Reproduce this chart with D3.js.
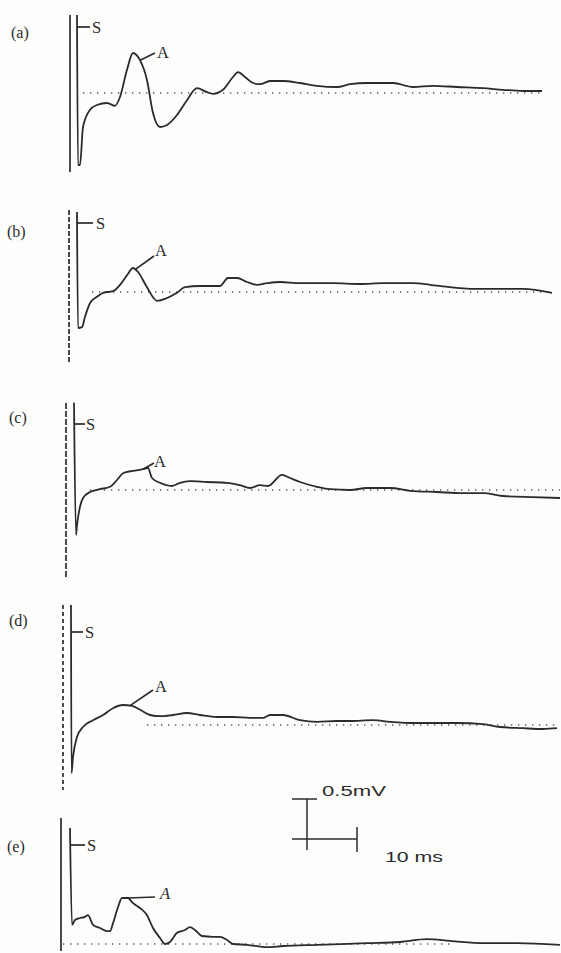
<!DOCTYPE html>
<html><head><meta charset="utf-8">
<script src="https://cdn.jsdelivr.net/npm/d3@7"></script>
<style>
html,body{margin:0;padding:0;background:#fdfdfc;}
svg{display:block;}
</style></head>
<body>
<svg id="chart" width="561" height="953"></svg>
<script>
// ---- data: [time (ms after stimulus), potential (mV relative to baseline)] ----
const panelLabels = ["(a)", "(b)", "(c)", "(d)", "(e)"];
const traceA = [[0,0.975],[0.2,-0.9],[0.6,-0.9],[1.2,-0.425],[2.6,-0.21],[4.0,-0.15],[6.0,-0.125],[7.6,-0.16],[8.6,-0.05],[10.0,0.29],[11.2,0.5],[12.6,0.41],[14.0,0.16],[15.2,-0.25],[16.6,-0.425],[18.0,-0.4],[20.0,-0.275],[22.0,-0.09],[24.0,0.06],[26.0,0.01],[27.2,-0.01],[29.2,0.04],[31.2,0.2],[32.2,0.26],[33.6,0.2],[35.2,0.125],[36.6,0.11],[38.6,0.15],[41.2,0.15],[44.6,0.125],[48.0,0.09],[52.0,0.075],[54.6,0.11],[58.0,0.125],[63.2,0.125],[67.2,0.075],[71.2,0.09],[76.0,0.075],[81.2,0.06],[85.2,0.04],[89.2,0.025],[93.0,0.025]];
const traceB = [[0,1.0],[0.2,-0.45],[1.0,-0.44],[1.6,-0.31],[2.6,-0.14],[4.0,-0.06],[5.2,-0.01],[7.2,0.01],[8.6,0.09],[10.0,0.21],[11.2,0.3],[12.2,0.25],[14.0,0.06],[16.0,-0.11],[18.0,-0.075],[20.0,-0.01],[21.6,0.06],[24.6,0.075],[28.6,0.075],[30.2,0.175],[32.0,0.175],[34.0,0.125],[36.0,0.09],[38.0,0.11],[40.6,0.125],[44.6,0.11],[51.2,0.11],[56.6,0.1],[61.2,0.11],[67.2,0.11],[70.6,0.09],[74.6,0.06],[78.6,0.04],[84.6,0.04],[89.2,0.04],[95.0,-0.01]];
const traceC = [[0,1.09],[0.4,-0.56],[0.6,-0.44],[1.2,-0.21],[1.8,-0.1],[3.2,-0.025],[5.2,0.01],[7.2,0.04],[8.6,0.125],[9.8,0.21],[11.8,0.24],[13.8,0.26],[14.8,0.275],[15.6,0.15],[17.2,0.09],[19.6,0.05],[21.2,0.09],[23.2,0.11],[26.6,0.1],[30.6,0.09],[33.2,0.06],[35.2,0.025],[37.2,0.06],[38.8,0.05],[41.6,0.19],[43.2,0.15],[45.2,0.1],[48.6,0.04],[51.2,0.01],[55.2,0],[58.6,0.025],[63.2,0.025],[67.2,-0.01],[72.6,-0.025],[77.8,-0.04],[81.8,-0.04],[85.8,-0.075],[91.8,-0.09],[97.2,-0.1]];
const traceD = [[0,1.5],[0.1,-0.6],[0.4,-0.4],[1.2,-0.15],[2.4,-0.025],[4.4,0.06],[6.4,0.125],[8.4,0.21],[10.4,0.25],[12.2,0.24],[13.8,0.19],[15.8,0.125],[17.8,0.11],[20.4,0.125],[23.2,0.15],[25.8,0.125],[29.2,0.1],[32.4,0.1],[35.8,0.09],[38.4,0.09],[39.8,0.125],[42.4,0.125],[45.8,0.06],[49.2,0.04],[53.2,0.05],[55.8,0.05],[60.4,0.06],[63.8,0.04],[69.2,0.025],[73.2,0.025],[77.2,0.025],[82.4,0.01],[85.8,-0.025],[90.4,-0.04],[94.4,-0.05],[97.2,-0.04]];
const traceE = [[0,1.45],[0.4,0.24],[1.0,0.3],[2.0,0.325],[3.0,0.34],[3.6,0.36],[4.6,0.24],[6.0,0.2],[7.4,0.16],[8.0,0.16],[8.6,0.26],[9.6,0.46],[10.4,0.575],[11.6,0.575],[12.6,0.51],[14.0,0.45],[15.4,0.36],[16.6,0.2],[18.0,0.075],[19.0,0],[20.0,0.025],[21.4,0.14],[23.0,0.175],[24.0,0.21],[25.0,0.175],[26.4,0.1],[28.6,0.09],[30.0,0.09],[31.4,0.05],[32.6,0],[35.4,-0.01],[39.4,-0.04],[42.6,-0.025],[49.4,-0.01],[59.4,0.01],[66.0,0.025],[71.4,0.06],[76.0,0.04],[82.6,0.01],[89.4,0.01],[98.0,-0.01]];
const peakTimes = [12.6, 11.6, 13.8, 11.8, 11.6];   // where the "A" leader touches each trace
const scaleBarValues = {ms: 10, mV: 0.5};
const scaleBarLabels = ["0.5mV", "10 ms"];

// ---- layout (positions / styles only) ----
const traces = [traceA, traceB, traceC, traceD, traceE];
const layout = [
  {x0:77, base:93,  markX:70, markTop:15,  markBot:172, markDash:null,  lblX:11, lblY:38,  sY:27,  sEnd:90, sTx:92, lead:[155,53],  aX:157, aY:58,  dot:[83,542],  italic:false},
  {x0:77, base:292, markX:69, markTop:210, markBot:363, markDash:"5,2", lblX:7,  lblY:237, sY:223, sEnd:93, sTx:96, lead:[154,256], aX:155, aY:256, dot:[92,552],  italic:false},
  {x0:74, base:490, markX:66, markTop:403, markBot:578, markDash:"6,2", lblX:9,  lblY:423, sY:424, sEnd:85, sTx:86, lead:[154,463], aX:154, aY:467, dot:[90,560],  italic:false},
  {x0:71, base:725, markX:63, markTop:605, markBot:790, markDash:"4,3", lblX:9,  lblY:626, sY:632, sEnd:83, sTx:85, lead:[153,690], aX:155, aY:692, dot:[147,555], italic:false},
  {x0:70, base:944, markX:61, markTop:818, markBot:951, markDash:null,  lblX:7,  lblY:852, sY:845, sEnd:85, sTx:87, lead:[155,897], aX:160, aY:899, dot:[63,450],  italic:true}
];
const ink = "#2b2b2b";
const svg = d3.select("#chart");

function interp(data, t){
  for(let i=1;i<data.length;i++){
    if(data[i][0]>=t){
      const a=data[i-1], b=data[i], f=(t-a[0])/(b[0]-a[0]);
      return a[1]+f*(b[1]-a[1]);
    }
  }
  return data[data.length-1][1];
}

layout.forEach((L, i) => {
  const data = traces[i];
  const x = d3.scaleLinear().domain([0, 100]).range([L.x0, L.x0 + 500]);
  const y = d3.scaleLinear().domain([-1, 1]).range([L.base + 80, L.base - 80]);
  const g = svg.append("g");

  // dotted baseline at 0 mV
  g.append("line")
    .attr("x1", L.dot[0]).attr("x2", L.dot[1])
    .attr("y1", y(0)).attr("y2", y(0))
    .attr("stroke", "#555").attr("stroke-width", 1.3)
    .attr("stroke-dasharray", "1.3,5.7");

  // sweep marker line
  g.append("line")
    .attr("x1", L.markX).attr("x2", L.markX)
    .attr("y1", L.markTop).attr("y2", L.markBot)
    .attr("stroke", ink).attr("stroke-width", 1.7)
    .attr("stroke-dasharray", L.markDash);

  // trace
  const line = d3.line().x(d => x(d[0])).y(d => y(d[1])).curve(d3.curveMonotoneX);
  g.append("path").datum(data)
    .attr("d", line)
    .attr("fill", "none").attr("stroke", ink)
    .attr("stroke-width", 1.8).attr("stroke-linejoin", "round");

  // stimulus label S
  g.append("line")
    .attr("x1", x(0)).attr("x2", L.sEnd)
    .attr("y1", L.sY).attr("y2", L.sY)
    .attr("stroke", ink).attr("stroke-width", 1.7);
  g.append("text")
    .attr("x", L.sTx).attr("y", L.sY).attr("dy", "0.36em")
    .attr("font-family", "Liberation Serif, serif").attr("font-size", 16.5)
    .attr("fill", ink).text("S");

  // peak label A with leader
  const pt = peakTimes[i];
  g.append("line")
    .attr("x1", x(pt)).attr("y1", y(interp(data, pt)))
    .attr("x2", L.lead[0]).attr("y2", L.lead[1])
    .attr("stroke", ink).attr("stroke-width", 1.7);
  g.append("text")
    .attr("x", L.aX).attr("y", L.aY)
    .attr("font-family", "Liberation Serif, serif").attr("font-size", 16.5)
    .attr("font-style", L.italic ? "italic" : "normal")
    .attr("fill", ink).text("A");

  // panel label
  g.append("text")
    .attr("x", L.lblX).attr("y", L.lblY)
    .attr("font-family", "Liberation Serif, serif").attr("font-size", 16)
    .attr("fill", ink).text(panelLabels[i]);
});

// ---- calibration bar ----
{
  const xs = d3.scaleLinear().domain([0, 100]).range([307, 807]);
  const ys = d3.scaleLinear().domain([-1, 1]).range([839 + 80, 839 - 80]);
  const g = svg.append("g").attr("stroke", ink).attr("stroke-width", 1.5);
  const x0 = xs(0), x1 = xs(scaleBarValues.ms), y0 = ys(0), y1 = ys(scaleBarValues.mV);
  g.append("line").attr("x1", x0).attr("x2", x0).attr("y1", y1).attr("y2", y0 + 11);
  g.append("line").attr("x1", x0 - 15).attr("x2", x0 + 10).attr("y1", y1).attr("y2", y1);
  g.append("line").attr("x1", x0 - 15).attr("x2", x1).attr("y1", y0).attr("y2", y0);
  g.append("line").attr("x1", x1).attr("x2", x1).attr("y1", y0 - 12).attr("y2", y0 + 13);
  svg.append("text").attr("x", 322).attr("y", 796)
    .attr("font-family", "Liberation Sans, Arial, sans-serif").attr("font-size", 15)
    .attr("textLength", 64).attr("lengthAdjust", "spacingAndGlyphs")
    .attr("fill", ink).text(scaleBarLabels[0]);
  svg.append("text").attr("x", 385).attr("y", 862)
    .attr("font-family", "Liberation Sans, Arial, sans-serif").attr("font-size", 15.5)
    .attr("textLength", 58).attr("lengthAdjust", "spacingAndGlyphs")
    .attr("fill", ink).text(scaleBarLabels[1]);
}
</script>
</body></html>
